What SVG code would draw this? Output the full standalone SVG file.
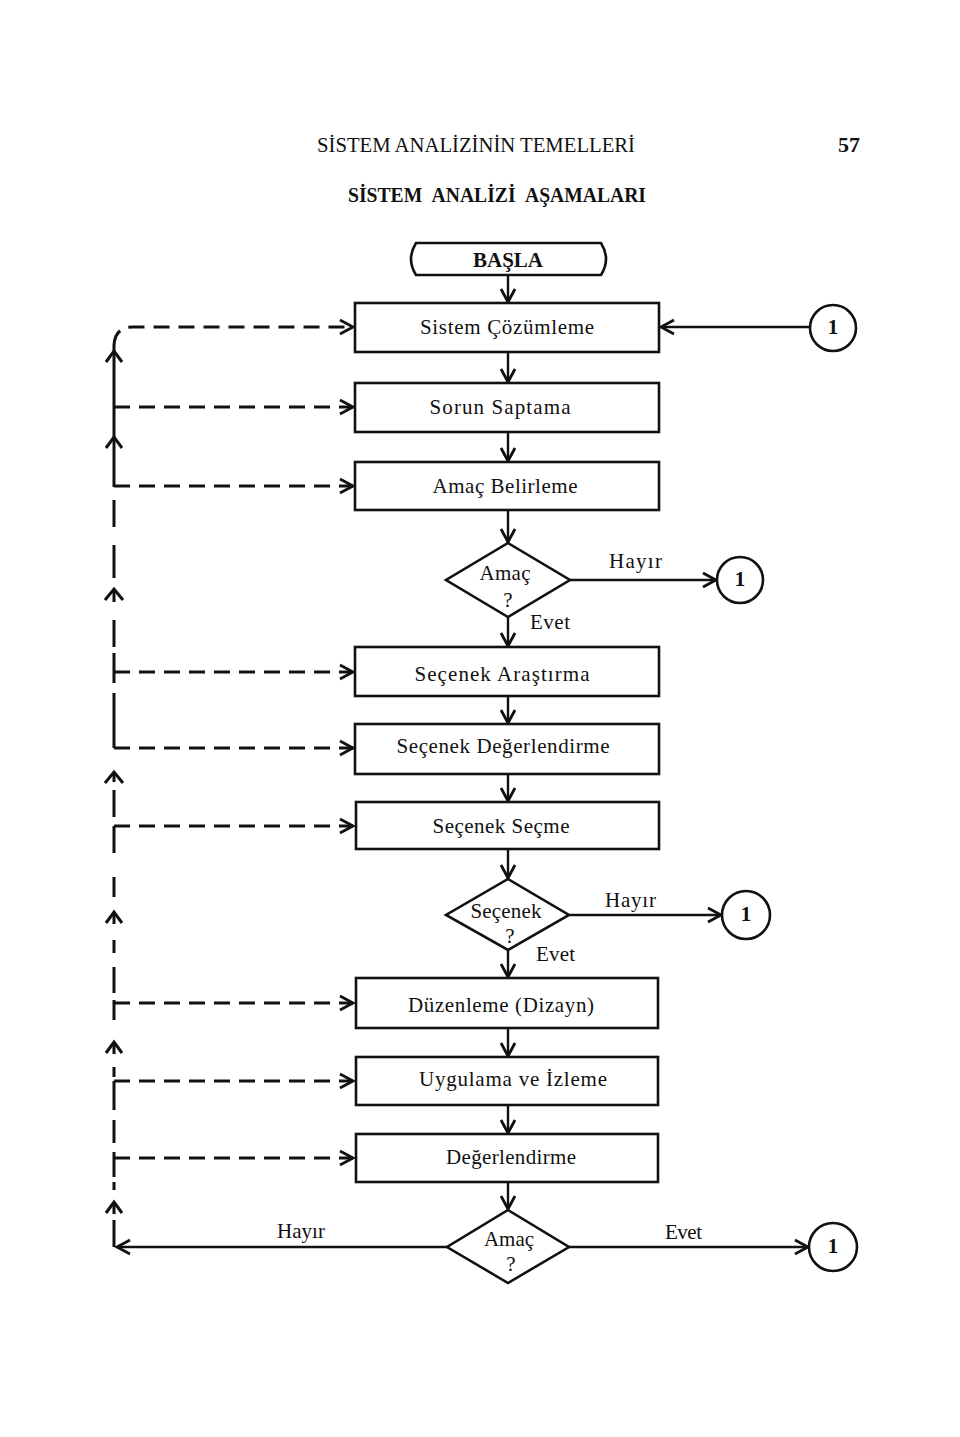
<svg xmlns="http://www.w3.org/2000/svg" width="960" height="1437" viewBox="0 0 960 1437">
<defs>
<style>
.t{font-family:"Liberation Serif","Times New Roman",serif;font-size:21px;fill:#111}
.b{font-weight:bold}
.box{fill:#fff;stroke:#111;stroke-width:2.6}
.ln{fill:none;stroke:#111;stroke-width:2.4}
.dash{fill:none;stroke:#111;stroke-width:3;stroke-dasharray:16 9}
.vl{fill:none;stroke:#111;stroke-width:3}
.up{fill:none;stroke:#111;stroke-width:3;stroke-linejoin:miter}
</style>
<marker id="arr" markerUnits="userSpaceOnUse" markerWidth="18" markerHeight="18" refX="13" refY="7" orient="auto" viewBox="-2 -2 18 18">
<path d="M0 0 L13 7 L0 14" fill="none" stroke="#111" stroke-width="2.8"/>
</marker>
</defs>
<rect width="960" height="1437" fill="#fff"/>

<g id="header">
<text class="t" x="317" y="152" font-size="22" textLength="318" lengthAdjust="spacingAndGlyphs">SİSTEM ANALİZİNİN TEMELLERİ</text>
<text class="t b" x="838" y="152" font-size="23" textLength="22" lengthAdjust="spacingAndGlyphs">57</text>
<text class="t b" x="348" y="202" font-size="18" word-spacing="6" textLength="298" lengthAdjust="spacingAndGlyphs">SİSTEM ANALİZİ AŞAMALARI</text>
</g>

<g id="connectors">
<path class="ln" d="M508 275 V302" marker-end="url(#arr)"/>
<path class="ln" d="M508 352 V382" marker-end="url(#arr)"/>
<path class="ln" d="M508 432 V461" marker-end="url(#arr)"/>
<path class="ln" d="M508 510 V542" marker-end="url(#arr)"/>
<path class="ln" d="M508 617 V646" marker-end="url(#arr)"/>
<path class="ln" d="M508 696 V723" marker-end="url(#arr)"/>
<path class="ln" d="M508 774 V801" marker-end="url(#arr)"/>
<path class="ln" d="M508 849 V878" marker-end="url(#arr)"/>
<path class="ln" d="M508 950 V977" marker-end="url(#arr)"/>
<path class="ln" d="M508 1028 V1056" marker-end="url(#arr)"/>
<path class="ln" d="M508 1105 V1133" marker-end="url(#arr)"/>
<path class="ln" d="M508 1182 V1209" marker-end="url(#arr)"/>
<path class="ln" d="M810 327 H661" marker-end="url(#arr)"/>
<path class="ln" d="M570 580 H716" marker-end="url(#arr)"/>
<path class="ln" d="M569 915 H721" marker-end="url(#arr)"/>
<path class="ln" d="M569 1247 H808" marker-end="url(#arr)"/>
<path class="ln" d="M447 1247 H117" marker-end="url(#arr)"/>
<path class="dash" d="M114 345 Q115 327 133 327 H353" marker-end="url(#arr)"/>
<path class="dash" d="M114 407 H353" marker-end="url(#arr)"/>
<path class="dash" d="M114 486 H353" marker-end="url(#arr)"/>
<path class="dash" d="M114 672 H353" marker-end="url(#arr)"/>
<path class="dash" d="M114 748 H353" marker-end="url(#arr)"/>
<path class="dash" d="M114 826 H353" marker-end="url(#arr)"/>
<path class="dash" d="M114 1003 H353" marker-end="url(#arr)"/>
<path class="dash" d="M114 1081 H353" marker-end="url(#arr)"/>
<path class="dash" d="M114 1158 H353" marker-end="url(#arr)"/>
<path class="vl" d="M114 345 V487 M114 500 V527 M114 545 V578 M114 590 V602 M114 620 V647 M114 653 V683 M114 693 V748 M114 772 V782 M114 790 V817 M114 826 V853 M114 877 V897 M114 912 V924 M114 940 V953 M114 967 V993 M114 1000 V1020 M114 1042 V1054 M114 1067 V1077 M114 1081 V1110 M114 1120 V1143 M114 1152 V1177 M114 1182 V1190 M114 1202 V1214 M114 1220 V1247"/>
<path class="up" d="M106 362 L114 351 L122 362"/>
<path class="up" d="M106 448 L114 437 L122 448"/>
<path class="up" d="M105 600 L114 589 L123 600"/>
<path class="up" d="M105 783 L114 772 L123 783"/>
<path class="up" d="M106 923 L114 912 L122 923"/>
<path class="up" d="M106 1053 L114 1042 L122 1053"/>
<path class="up" d="M106 1213 L114 1202 L122 1213"/>
</g>

<g id="basla">
<path class="box" d="M416 243 H601 Q611 259 601 275 H416 Q406 259 416 243 Z"/>
<text class="t b" x="508" y="267" text-anchor="middle" font-size="17">BAŞLA</text>
</g>
<g id="sistem-cozumleme">
<rect class="box" x="355" y="303" width="304" height="49"/>
<text class="t" x="507" y="334" text-anchor="middle" textLength="174" lengthAdjust="spacing">Sistem Çözümleme</text>
</g>
<g id="sorun-saptama">
<rect class="box" x="355" y="383" width="304" height="49"/>
<text class="t" x="500" y="414" text-anchor="middle" textLength="141" lengthAdjust="spacing">Sorun Saptama</text>
</g>
<g id="amac-belirleme">
<rect class="box" x="355" y="462" width="304" height="48"/>
<text class="t" x="505" y="493" text-anchor="middle" textLength="145" lengthAdjust="spacing">Amaç Belirleme</text>
</g>
<g id="karar-amac-1">
<path class="box" d="M508 543 L570 580 L508 617 L446 580 Z"/>
<text class="t" x="505" y="580" text-anchor="middle" font-size="20" textLength="51" lengthAdjust="spacing">Amaç</text>
<text class="t" x="508" y="607" text-anchor="middle" font-size="20">?</text>
<text class="t" x="609" y="568" font-size="20" textLength="53" lengthAdjust="spacing">Hayır</text>
<text class="t" x="530" y="629" font-size="20" textLength="40" lengthAdjust="spacing">Evet</text>
</g>
<g id="baglanti-1a">
<circle class="box" cx="833" cy="328" r="23"/>
<text class="t b" x="833" y="334" text-anchor="middle" font-size="16">1</text>
</g>
<g id="baglanti-1b">
<circle class="box" cx="740" cy="580" r="23"/>
<text class="t b" x="740" y="586" text-anchor="middle" font-size="16">1</text>
</g>
<g id="secenek-arastirma">
<rect class="box" x="355" y="647" width="304" height="49"/>
<text class="t" x="502" y="681" text-anchor="middle" textLength="175" lengthAdjust="spacing">Seçenek Araştırma</text>
</g>
<g id="secenek-degerlendirme">
<rect class="box" x="355" y="724" width="304" height="50"/>
<text class="t" x="503" y="753" text-anchor="middle" textLength="213" lengthAdjust="spacing">Seçenek Değerlendirme</text>
</g>
<g id="secenek-secme">
<rect class="box" x="356" y="802" width="303" height="47"/>
<text class="t" x="501" y="833" text-anchor="middle" textLength="137" lengthAdjust="spacing">Seçenek Seçme</text>
</g>
<g id="karar-secenek">
<path class="box" d="M508 879 L569 915 L508 950 L446 915 Z"/>
<text class="t" x="506" y="918" text-anchor="middle" font-size="20" textLength="71" lengthAdjust="spacing">Seçenek</text>
<text class="t" x="510" y="943" text-anchor="middle" font-size="20">?</text>
<text class="t" x="605" y="907" font-size="20" textLength="51" lengthAdjust="spacing">Hayır</text>
<text class="t" x="536" y="961" font-size="20" textLength="39" lengthAdjust="spacing">Evet</text>
</g>
<g id="baglanti-1c">
<circle class="box" cx="746" cy="915" r="24"/>
<text class="t b" x="746" y="921" text-anchor="middle" font-size="16">1</text>
</g>
<g id="duzenleme">
<rect class="box" x="356" y="978" width="302" height="50"/>
<text class="t" x="501" y="1012" text-anchor="middle" textLength="186" lengthAdjust="spacing">Düzenleme (Dizayn)</text>
</g>
<g id="uygulama-izleme">
<rect class="box" x="356" y="1057" width="302" height="48"/>
<text class="t" x="513" y="1086" text-anchor="middle" textLength="188" lengthAdjust="spacing">Uygulama ve İzleme</text>
</g>
<g id="degerlendirme">
<rect class="box" x="356" y="1134" width="302" height="48"/>
<text class="t" x="511" y="1164" text-anchor="middle" textLength="130" lengthAdjust="spacing">Değerlendirme</text>
</g>
<g id="karar-amac-2">
<path class="box" d="M508 1210 L569 1247 L508 1283 L447 1247 Z"/>
<text class="t" x="509" y="1246" text-anchor="middle" font-size="20" textLength="50" lengthAdjust="spacing">Amaç</text>
<text class="t" x="511" y="1271" text-anchor="middle" font-size="20">?</text>
<text class="t" x="277" y="1238" font-size="20" textLength="48" lengthAdjust="spacing">Hayır</text>
<text class="t" x="665" y="1239" font-size="20" textLength="37" lengthAdjust="spacing">Evet</text>
</g>
<g id="baglanti-1d">
<circle class="box" cx="833" cy="1247" r="24"/>
<text class="t b" x="833" y="1253" text-anchor="middle" font-size="16">1</text>
</g>
</svg>
